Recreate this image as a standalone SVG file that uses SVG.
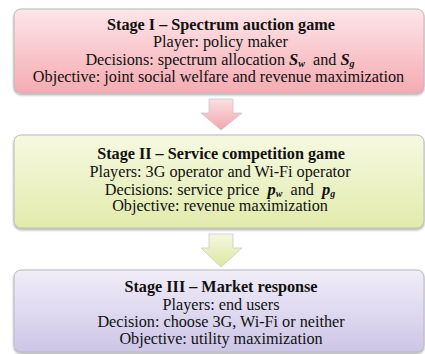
<svg xmlns="http://www.w3.org/2000/svg" width="425" height="354" viewBox="0 0 425 354">
<defs>
<linearGradient id="gPink" x1="0" y1="0" x2="0" y2="1"><stop offset="0" stop-color="#fde6e9"/><stop offset="1" stop-color="#f5abb2"/></linearGradient>
<linearGradient id="gGreen" x1="0" y1="0" x2="0" y2="1"><stop offset="0" stop-color="#f6f9e2"/><stop offset="1" stop-color="#e2ebac"/></linearGradient>
<linearGradient id="gPurple" x1="0" y1="0" x2="0" y2="1"><stop offset="0" stop-color="#f0edf8"/><stop offset="1" stop-color="#cdc6e7"/></linearGradient>
<linearGradient id="aPink" x1="0" y1="0" x2="0" y2="1"><stop offset="0" stop-color="#fbe0e3"/><stop offset="1" stop-color="#f2a5ac"/></linearGradient>
<linearGradient id="aGreen" x1="0" y1="0" x2="0" y2="1"><stop offset="0" stop-color="#f5f8df"/><stop offset="1" stop-color="#dde7a3"/></linearGradient>
<filter id="sh" x="-5%" y="-10%" width="110%" height="125%"><feDropShadow dx="0" dy="1.5" stdDeviation="1.2" flood-color="#000" flood-opacity="0.35"/></filter>
</defs>
<style>
text{font-family:'Liberation Serif','Times New Roman',serif;font-size:16.2px;fill:#111;text-anchor:middle}
.t{font-weight:bold}
.m{font-weight:bold;font-style:italic;font-size:16.5px}
.s{font-weight:bold;font-style:italic;font-size:10px}
.box{stroke:#b9b9b9;stroke-width:1}
.arr{stroke:#c9c9c9;stroke-width:0.8}
</style>
<g id="connectors">
<path class="arr" d="M209,99 H233 V113 H242 L221,130 L201,113 H209 Z" fill="url(#aPink)"/>
<path class="arr" d="M209,234 H233 V248 H242 L221,267 L201,248 H209 Z" fill="url(#aGreen)"/>
</g>
<g id="stage1">
<rect class="box" x="14" y="9" width="410" height="84" rx="7" fill="url(#gPink)" filter="url(#sh)"/>
<text x="221" y="30" class="t">Stage I – Spectrum auction game</text>
<text x="220.5" y="47">Player: policy maker</text>
<text x="220" y="64.5">Decisions: spectrum allocation <tspan class="m">S</tspan><tspan class="s" dy="2.5">w</tspan><tspan dy="-2.5">&#160; and </tspan><tspan class="m">S</tspan><tspan class="s" dy="2.5">g</tspan></text>
<text x="218.5" y="81.5">Objective: joint social welfare and revenue maximization</text>
</g>
<g id="stage2">
<rect class="box" x="14" y="135" width="410" height="93" rx="7" fill="url(#gGreen)" filter="url(#sh)"/>
<text x="221" y="159" class="t">Stage II – Service competition game</text>
<text x="220" y="176.5">Players: 3G operator and Wi-Fi operator</text>
<text x="220" y="194.5">Decisions: service price&#160; <tspan class="m">p</tspan><tspan class="s" dy="2.5">w</tspan><tspan dy="-2.5">&#160; and&#160; </tspan><tspan class="m">p</tspan><tspan class="s" dy="2.5">g</tspan></text>
<text x="220" y="211">Objective: revenue maximization</text>
</g>
<g id="stage3">
<rect class="box" x="14" y="270" width="410" height="82" rx="7" fill="url(#gPurple)" filter="url(#sh)"/>
<text x="221" y="292" class="t">Stage III – Market response</text>
<text x="221" y="309.5">Players: end users</text>
<text x="221" y="327">Decision: choose 3G, Wi-Fi or neither</text>
<text x="221" y="343.5">Objective: utility maximization</text>
</g>
</svg>
